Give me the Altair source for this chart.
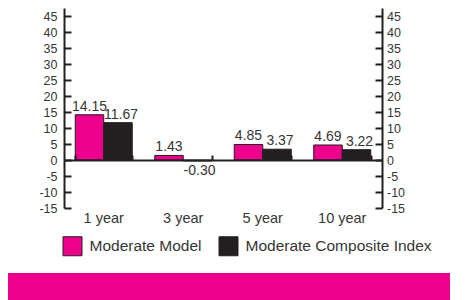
import altair as alt
import pandas as pd

categories = ["1 year", "3 year", "5 year", "10 year"]
series = ["Moderate Model", "Moderate Composite Index"]
model_values = [14.15, 1.43, 4.85, 4.69]
index_values = [11.67, -0.30, 3.37, 3.22]
y_ticks = [-15, -10, -5, 0, 5, 10, 15, 20, 25, 30, 35, 40, 45]
colors = ["#EC008C", "#231F20"]

rows = []
for c, m, i in zip(categories, model_values, index_values):
    rows.append({"period": c, "series": series[0], "value": m, "label": f"{m:.2f}"})
    rows.append({"period": c, "series": series[1], "value": i, "label": f"{i:.2f}"})
df = pd.DataFrame(rows)

W, H = 318, 200
FONT = "Liberation Sans"
TEXT = "#363636"
DARK = "#231F20"

x_scale = alt.Scale(domain=categories, paddingInner=0.283, paddingOuter=0.1415)
xo_scale = alt.Scale(domain=series, paddingInner=0, paddingOuter=0)
y_scale = alt.Scale(domain=[-15, 47.5], nice=False, zero=False)

base = alt.Chart(df)


def xenc(axis=None):
    return alt.X("period:N", scale=x_scale, sort=categories, axis=axis)


def xoenc():
    return alt.XOffset("series:N", sort=series, scale=xo_scale)


def yenc(axis=None):
    return alt.Y("value:Q", scale=y_scale, axis=axis)


bars = base.mark_bar(stroke=DARK, strokeWidth=1).encode(
    x=xenc(alt.Axis(orient="bottom", title=None, domain=False, ticks=False, tickSize=0,
                    labelAngle=0, labelFont=FONT, labelFontSize=14.5, labelColor=TEXT,
                    labelBaseline="alphabetic", labelPadding=14.5, grid=False)),
    xOffset=xoenc(),
    y=yenc(alt.Axis(orient="left", title=None, values=y_ticks, ticks=False, tickSize=0,
                    domainWidth=2, domainColor=DARK, labelPadding=7, labelFont=FONT,
                    labelFontSize=12.5, labelColor=TEXT, grid=False,
                    labelExpr="'' + datum.value")),
    color=alt.Color("series:N", sort=series,
                    scale=alt.Scale(domain=series, range=colors),
                    legend=alt.Legend(orient="none", legendX=-1.5, legendY=228,
                                      direction="horizontal", title=None,
                                      symbolType="square", symbolSize=361,
                                      symbolStrokeColor=DARK, symbolStrokeWidth=1,
                                      symbolOpacity=1, labelFont=FONT,
                                      labelFontSize=15.5, labelColor=TEXT,
                                      labelOffset=7, columnPadding=14,
                                      labelLimit=0, padding=0)),
)

text_props = dict(font=FONT, fontSize=14, color=TEXT, baseline="alphabetic")

lbl_model = base.transform_filter(
    (alt.datum.value >= 0) & (alt.datum.series == series[0])
).mark_text(dy=-4, **text_props).encode(
    x=xenc(), xOffset=xoenc(), y=yenc(), text="label:N",
)

lbl_index = base.transform_filter(
    (alt.datum.value >= 0) & (alt.datum.series == series[1])
).mark_text(dy=-4, dx=3, **text_props).encode(
    x=xenc(), xOffset=xoenc(), y=yenc(), text="label:N",
)

lbl_neg = base.transform_filter(alt.datum.value < 0).mark_text(
    dy=14.5, dx=2, **text_props
).encode(
    x=xenc(), xOffset=xoenc(), y=yenc(), text="label:N",
)

# right axis with labels
right_axis = base.mark_point(opacity=0).encode(
    x=xenc(),
    y=yenc(alt.Axis(orient="right", title=None, values=y_ticks, ticks=False, tickSize=0,
                    domainWidth=2, domainColor=DARK, labelPadding=4.5, labelFont=FONT,
                    labelFontSize=12.5, labelColor=TEXT, grid=False,
                    labelExpr="'' + datum.value")),
)

# inward ticks on left edge
left_ticks = base.mark_point(opacity=0).encode(
    x=xenc(),
    y=yenc(alt.Axis(orient="right", offset=-W, title=None, values=y_ticks, labels=False,
                    domain=False, ticks=True, tickSize=7, tickWidth=2, tickColor=DARK,
                    grid=False)),
)

# inward ticks on right edge
right_ticks = base.mark_point(opacity=0).encode(
    x=xenc(),
    y=yenc(alt.Axis(orient="left", offset=-W, title=None, values=y_ticks, labels=False,
                    domain=False, ticks=True, tickSize=7, tickWidth=2, tickColor=DARK,
                    grid=False)),
)

# zero line with small category separators
zero_line = base.mark_point(opacity=0).encode(
    x=xenc(alt.Axis(orient="top", offset=-152, title=None, labels=False,
                    domain=True, domainWidth=2, domainColor=DARK,
                    ticks=True, tickSize=5, tickWidth=2, tickColor=DARK,
                    tickBand="extent", grid=False, zindex=1)),
    y=yenc(),
)

banner = alt.Chart(pd.DataFrame({"k": [0]})).mark_rect(color="#EC008C").encode(
    x=alt.value(-56), x2=alt.value(386), y=alt.value(265), y2=alt.value(300)
)

chart = alt.layer(
    banner, bars, lbl_model, lbl_index, lbl_neg, right_axis, left_ticks, right_ticks, zero_line
).resolve_axis(x="independent", y="independent").properties(
    width=W, height=H,
    autosize=alt.AutoSizeParams(type="none"),
    padding={"left": 56, "top": 0, "right": 69, "bottom": 92},
).configure_view(stroke=None)

chart.save("out.html", embed_options={"renderer": "svg", "actions": False})
